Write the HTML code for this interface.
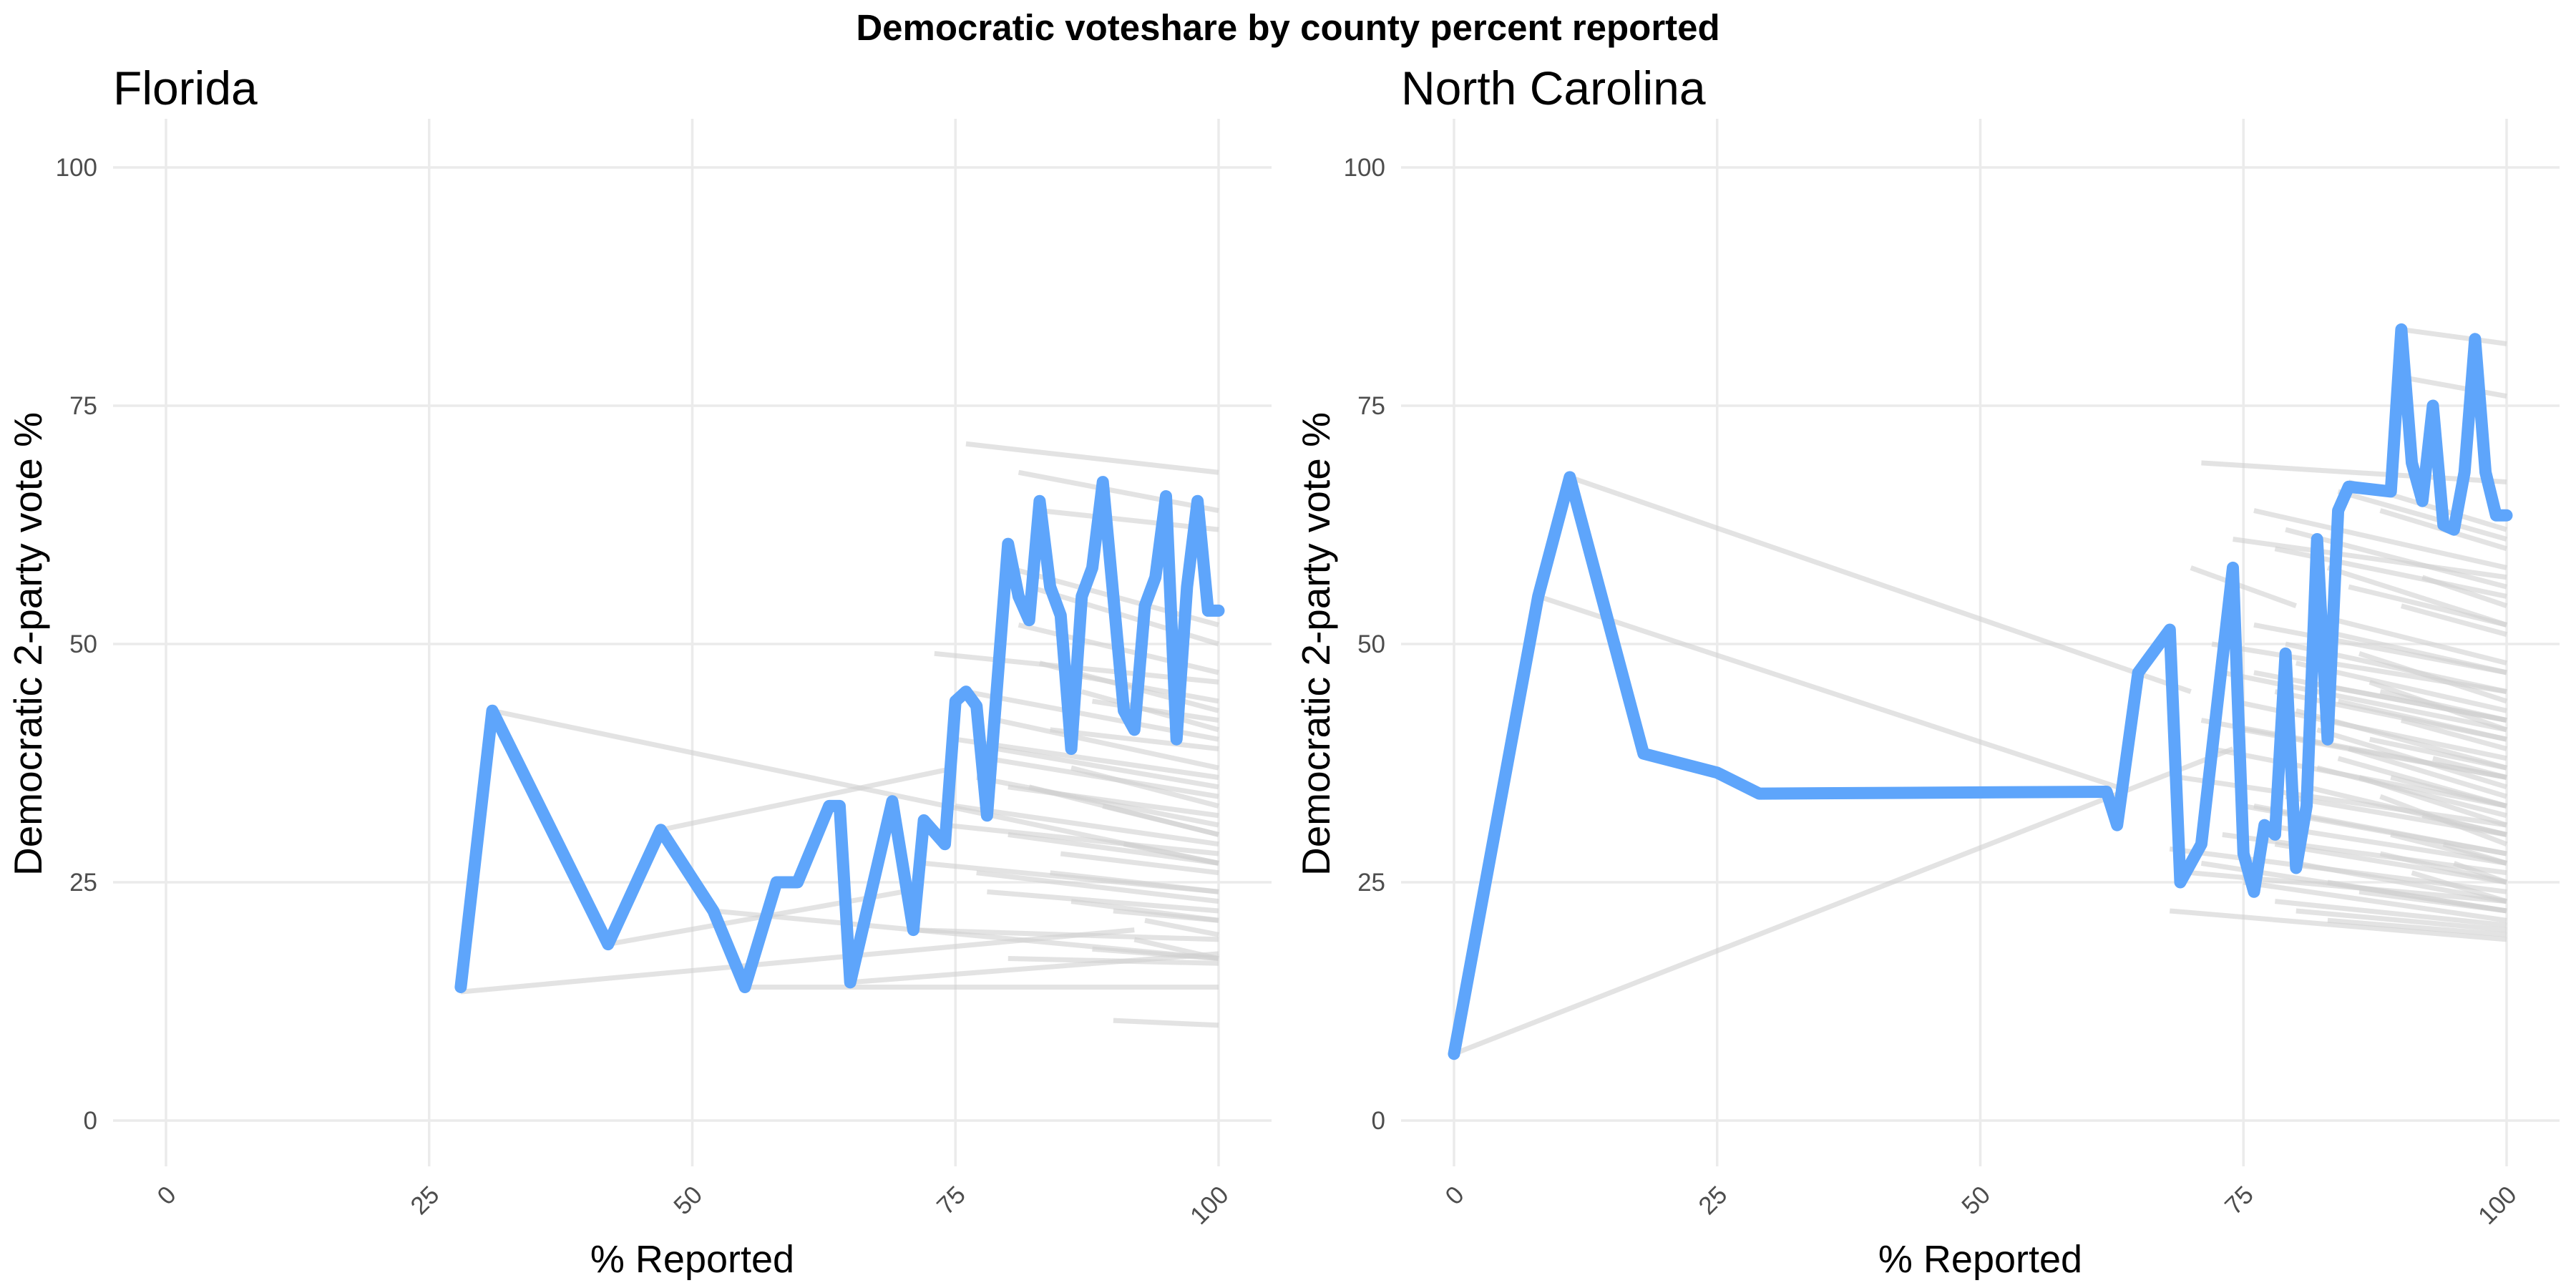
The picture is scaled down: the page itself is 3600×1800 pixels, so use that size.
<!DOCTYPE html>
<html><head><meta charset="utf-8">
<style>
html,body{margin:0;padding:0;background:#fff;}
svg{display:block;font-family:"Liberation Sans",Arial,sans-serif;}
</style></head>
<body>
<svg id="chart" width="3600" height="1800" viewBox="0 0 3600 1800" xmlns="http://www.w3.org/2000/svg">
<text x="1800" y="56" text-anchor="middle" font-size="51" font-weight="bold" fill="#000">Democratic voteshare by county percent reported</text>
</svg>
<script>
const xTicks = [0, 25, 50, 75, 100];
const yTicks = [0, 25, 50, 75, 100];
const panelNames = ["Florida", "North Carolina"];
// Florida highlighted series
const flX = [28,31,42,47,52,55,58,60,63,64,65,69,71,72,74,75,76,77,78,80,81,82,83,84,85,86,87,88,89,90,91,92,93,94,95,96,97,98,99,100];
const flY = [14,43,18.5,30.5,22,14,25,25,33,33,14.5,33.5,20,31.5,29,44,45,43.5,32,60.5,55,52.5,65,56,53,39,55,58,67,55,43,41,54,57,65.5,40,56,65,53.5,53.5];
// North Carolina highlighted series
const ncX = [0,8,11,18,25,29,62,63,65,68,69,71,74,75,76,77,78,79,80,81,82,83,84,85,89,90,91,92,93,94,95,96,97,98,99,100];
const ncY = [7,55,67.5,38.5,36.5,34.3,34.5,31,47,51.5,25,29,58,28,24,31,30,49,26.5,33,61,40,64,66.5,66,83,69,65,75,62.5,62,68,82,68,63.5,63.5];
// grey county lines: start x, start y, end x, end y
const flGreyX0 = [76,81,83,80,82,73,76,79,75,78,80,31,75,72,47,28,42,52,55,65,90,71,80,85,77,88,85,90,82,74,86,78,92,84,81,83,87,79,77,89,91,84,86,93,88,80];
const flGreyY0 = [71,68,64,58,56,49,45,42,40,38,35,43,33,27,30.5,13.5,18.5,22,14,14.5,10.5,20,30,28,26,44,47,22,35,31,37,24,19,41,52,48,45,39,36,33,29,26,23,21,18,17];
const flGreyX1 = [100,100,100,100,100,100,100,100,100,100,100,100,100,100,75,92,70,100,100,100,100,100,100,100,100,100,100,100,100,100,100,100,100,100,100,100,100,100,100,100,100,100,100,100,100,100];
const flGreyY1 = [68,64,62,52,50,46,40,37,36,34,32,27,29,24,37,20,24,17,14,17.5,10,19,27,26,23,42,44,21,30,28,33,22,17,39,47,43,41,35,31,30,27,24,21,19.5,17,16.5];
const ncGreyX0 = [11,8,0,90,90,71,85,76,79,84,88,70,72,76,78,80,82,84,86,88,68,71,75,78,80,83,86,68,70,73,75,79,82,85,87,76,80,90,92,74,78,83,69,71,88,91,77,81,84,87,89,72,74,79,82,85,86,88,90,93,76,78,80,83,73,75,81,84,89,92,94,95];
const ncGreyY0 = [67.5,55,7,83,78,69,67,64,62,66,64,58,50,47,45,43,41,38,36,34,28.5,27,25,23,22,21,24,22,26,30,33,34,37,39,46,52,48,54,57,61,60,58,36,42,28,26,31,35,44,40,30,39,44,50,53,56,49,45,42,38,33,29,27,25,47,41,46,51,36,32,29,27];
const ncGreyX1 = [70,63,74,100,100,100,100,100,100,100,100,80,100,100,100,100,100,100,100,100,100,100,100,100,100,100,100,100,100,100,100,100,100,100,100,100,100,100,100,100,100,100,100,100,100,100,100,100,100,100,100,100,100,100,100,100,100,100,100,100,100,100,100,100,100,100,100,100,100,100,100,100];
const ncGreyY1 = [45,35,39,81.5,76,67,62,58,56,61,60,54,45,42,40,37,35,33,31,29,24,22,21,20.5,20,19.5,22,19,23,26,28,30,32,34,41,47,43,51,54,57,55,52,31,36,25,23,27,30,40,37,27,33,38,45,48,52,44,42,39,36,28,25,23,22,41,36,42,47,33,30,27,25];

const NS = "http://www.w3.org/2000/svg";
const svg = document.getElementById("chart");
const panels = [
  {left:232, right:1703, gL:158, gR:1777, hx:flX, hy:flY, gx0:flGreyX0, gy0:flGreyY0, gx1:flGreyX1, gy1:flGreyY1},
  {left:2032, right:3503, gL:1958, gR:3577, hx:ncX, hy:ncY, gx0:ncGreyX0, gy0:ncGreyY0, gx1:ncGreyX1, gy1:ncGreyY1}
];
const yTop = 234, yBot = 1566;
function mk(tag, attrs){ const e=document.createElementNS(NS,tag); for(const k in attrs) e.setAttribute(k,attrs[k]); return e; }

panels.forEach((p, pi) => {
  const xs = v => p.left + (p.right - p.left) * v / 100;
  const ys = v => yBot - (yBot - yTop) * v / 100;
  const g = mk("g", {});
  
  
  svg.appendChild(g);
  yTicks.forEach(t => {
    const l = mk("line", {x1:p.gL, x2:p.gR, y1:ys(t), y2:ys(t), stroke:"#ebebeb", "stroke-width":3.5});
    
    
    g.appendChild(l);
    const tx = mk("text", {x:p.gL - 22, y:ys(t) + 12, "text-anchor":"end", "font-size":35, fill:"#4d4d4d"});
    tx.textContent = t;
    
    
    g.appendChild(tx);
  });
  xTicks.forEach(t => {
    const l = mk("line", {x1:xs(t), x2:xs(t), y1:166, y2:1630, stroke:"#ebebeb", "stroke-width":3.5});
    
    
    g.appendChild(l);
    const tx = mk("text", {x:0, y:0, "text-anchor":"end", "font-size":35, fill:"#4d4d4d",
      transform:`translate(${xs(t)+16},${1672}) rotate(-45)`});
    tx.textContent = t;
    
    
    g.appendChild(tx);
  });
  p.gx0.forEach((x0, i) => {
    const l = mk("line", {x1:xs(x0), y1:ys(p.gy0[i]), x2:xs(p.gx1[i]), y2:ys(p.gy1[i]), stroke:"#d0d0d0", "stroke-opacity":0.6, "stroke-width":7});
    
    
    g.appendChild(l);
  });
  const d = p.hx.map((x,i)=>(i?"L":"M")+xs(x).toFixed(1)+","+ys(p.hy[i]).toFixed(1)).join(" ");
  const path = mk("path", {d:d, fill:"none", stroke:"#5ea5fb", "stroke-width":17, "stroke-linejoin":"round", "stroke-linecap":"round"});
  
  
  g.appendChild(path);
  const pt = mk("text", {x:p.gL, y:146, "font-size":66, fill:"#000"});
  pt.textContent = panelNames[pi];
  
  
  g.appendChild(pt);
  const xt = mk("text", {x:(p.left+p.right)/2, y:1778, "text-anchor":"middle", "font-size":54, fill:"#000"});
  xt.textContent = "% Reported";
  
  
  g.appendChild(xt);
  const yt = mk("text", {x:0, y:0, "text-anchor":"middle", "font-size":55, fill:"#000",
    transform:`translate(${p.gL - 100},${900}) rotate(-90)`});
  yt.textContent = "Democratic 2-party vote %";
  
  
  g.appendChild(yt);
});
</script>
</body></html>
